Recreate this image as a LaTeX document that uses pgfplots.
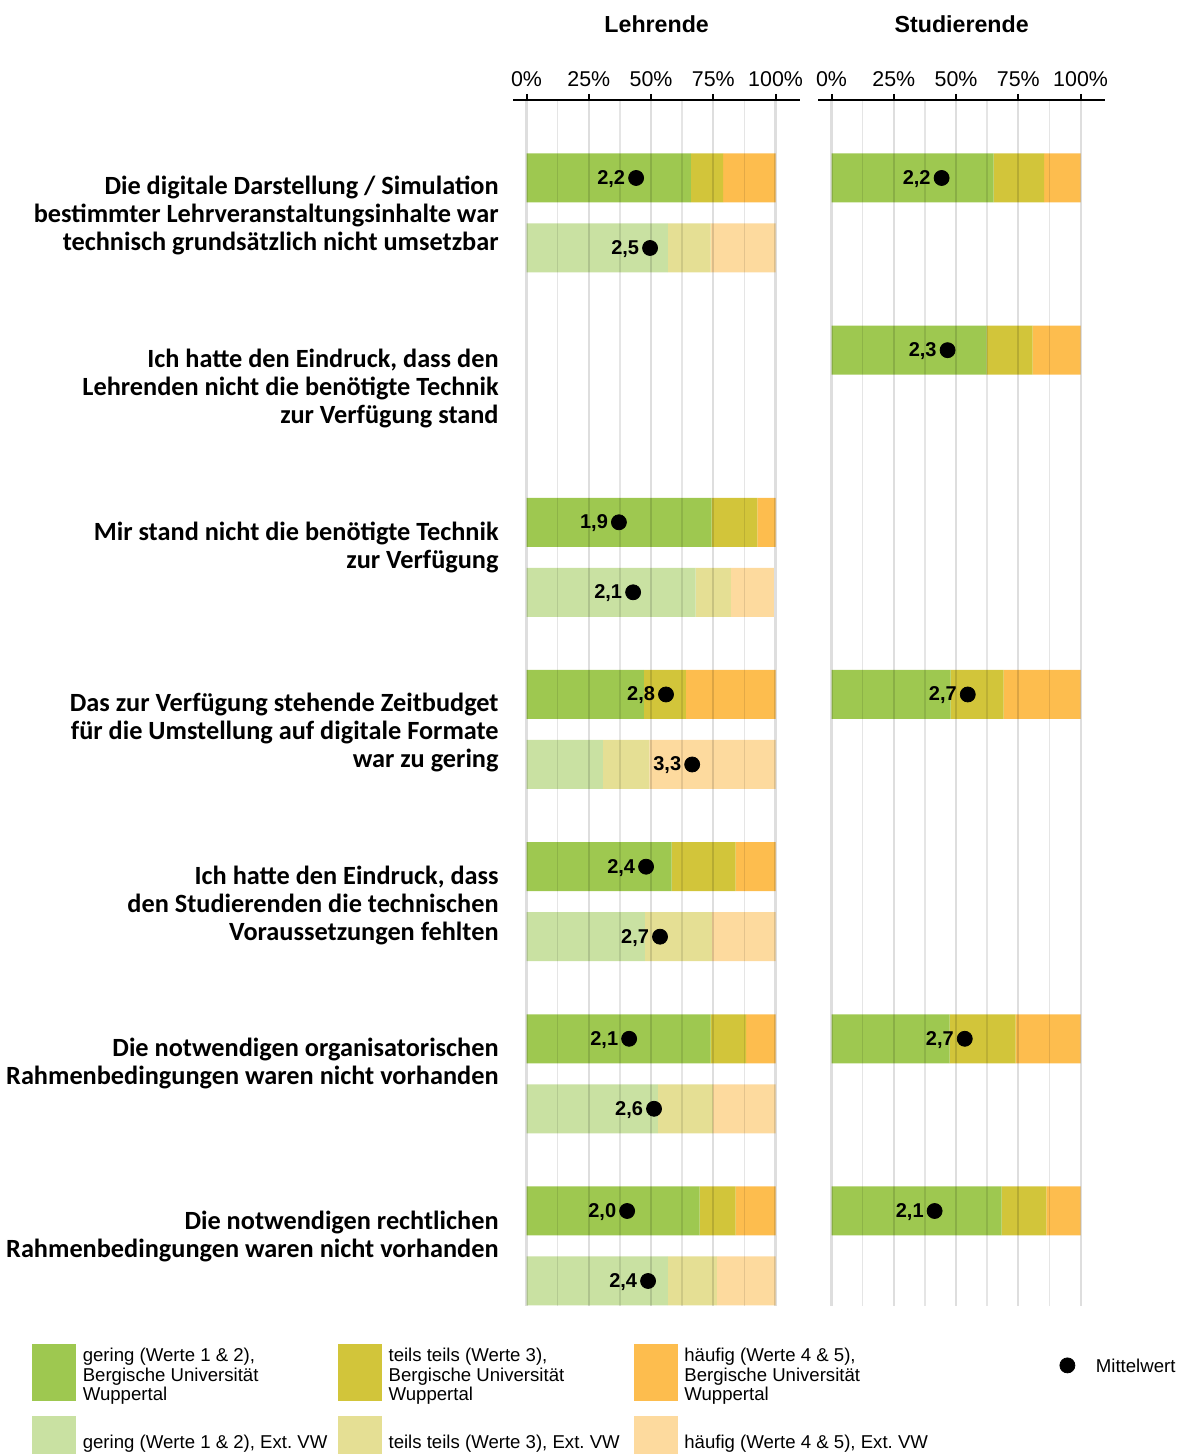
\documentclass[border=0pt]{standalone}
\usepackage{fontspec}
\setmainfont{Liberation Sans}
\newfontfamily\calib{Carlito}
\usepackage{pgfplots}
\usepackage{pgfplotstable}
\pgfplotsset{compat=1.18}
\frenchspacing

\definecolor{gB}{RGB}{158,200,80}
\definecolor{yB}{RGB}{210,197,58}
\definecolor{oB}{RGB}{253,189,78}
\definecolor{gE}{RGB}{201,225,162}
\definecolor{yE}{RGB}{229,223,148}
\definecolor{oE}{RGB}{253,218,158}

% Lehrende: BUW rows and Ext. VW rows (shares in %)
\pgfplotstableread{
y      gB   gE   yB   yE   oB   oE
1276   66.0 0    12.9 0    21.1 0
1206   0    56.8 0    17.1 0    26.1
931.7  74.3 0    18.4 0    7.3  0
861.7  0    67.9 0    14.1 0    17.3
759.5  47.1 0    16.9 0    36.0 0
689.5  0    30.7 0    18.6 0    50.7
587.3  58.3 0    25.7 0    16.0 0
517.3  0    47.5 0    26.9 0    25.6
415.2  73.9 0    14.3 0    11.8 0
345.2  0    52.7 0    22.1 0    25.2
243.0  69.5 0    14.5 0    16.0 0
173.0  0    56.8 0    19.6 0    23.6
}\Lbars
\pgfplotstableread{
y      x    lab
1276   44.0 2,2
1206   49.6 2,5
931.7  37.1 1,9
861.7  42.8 2,1
759.5  56.0 2,8
689.5  66.5 3,3
587.3  48.0 2,4
517.3  53.6 2,7
415.2  41.2 2,1
345.2  51.2 2,6
243.0  40.4 2,0
173.0  48.8 2,4
}\Lmean
% Studierende
\pgfplotstableread{
y      gB   yB   oB
1276   65.1 20.3 14.6
1103.8 62.3 18.4 19.3
759.5  47.8 21.3 30.9
415.2  47.4 26.5 26.1
243.0  68.3 18.0 13.7
}\Sbars
\pgfplotstableread{
y      x    lab
1276   44.2 2,2
1103.8 46.6 2,3
759.5  54.7 2,7
415.2  53.5 2,7
243.0  41.4 2,1
}\Smean

\pgfplotsset{
  geom/.style={scale only axis, width=143.35pt, height=603pt,
    xmin=-5.3, xmax=109.8, ymin=148, ymax=1354},
  panel/.style={geom,
    axis x line*=top, axis y line*=left,
    y axis line style={draw=none},
    x axis line style={line width=1pt, black},
    xtick={0,25,50,75,100}, xticklabels={0\%,25\%,50\%,75\%,100\%},
    minor xtick={12.5,37.5,62.5,87.5},
    xmajorgrids, xminorgrids, ymajorgrids=false,
    major grid style={black, opacity=0.13, line width=1.1pt},
    minor grid style={black, opacity=0.1, line width=0.75pt},
    tick align=outside,
    major tick length=3pt, minor tick length=0pt,
    xtick style={black, line width=1pt},
    ytick style={draw=none},
    xticklabel style={font=\fontsize{10.7}{12}\selectfont},
    axis on top,
    xbar stacked, bar width=24.5pt,
    title style={font=\bfseries\fontsize{11.6}{13}\selectfont, at={(0.5,1)}, anchor=center, yshift=32pt},
  },
  means/.style={geom, hide axis, clip=false,
    point meta=explicit symbolic,
    nodes near coords,
    nodes near coords style={anchor=east, xshift=-5.3pt, yshift=-0.5pt, inner sep=0pt,
      font=\bfseries\fontsize{10}{12}\selectfont, text=black}},
  boxleg/.style={legend image code/.code={\fill[#1] (0pt,-11pt) rectangle (21.5pt,17pt);}},
  dotleg/.style={legend image code/.code={\path[draw=none] (0pt,-11pt) rectangle (21.5pt,17pt);
      \draw[black, fill=black, mark=*, mark size=3.75pt, only marks] plot coordinates {(10.75pt,6.5pt)};}},
}
\newcommand\up[2]{\raisebox{#1}[\height][\depth]{#2}}

\begin{document}
\begin{tikzpicture}
\path[use as bounding box] (0,0) rectangle (589.5pt,727pt);

% ---------------- Lehrende ----------------
\begin{axis}[panel, at={(256.65pt,74pt)}, anchor=south west,
  title={Lehrende},
  ytick={1238,1065,907,721,548,390,217},
  yticklabels={
    {Die digitale Darstellung / Simulation\\bestimmter Lehrveranstaltungsinhalte war\\technisch grundsätzlich nicht umsetzbar},
    {Ich hatte den Eindruck, dass den\\Lehrenden nicht die benötigte Technik\\zur Verfügung stand},
    {Mir stand nicht die benötigte Technik\\zur Verfügung},
    {Das zur Verfügung stehende Zeitbudget\\für die Umstellung auf digitale Formate\\war zu gering},
    {Ich hatte den Eindruck, dass\\den Studierenden die technischen\\Voraussetzungen fehlten},
    {Die notwendigen organisatorischen\\Rahmenbedingungen waren nicht vorhanden},
    {Die notwendigen rechtlichen\\Rahmenbedingungen waren nicht vorhanden}},
  yticklabel style={font=\calib\bfseries\fontsize{13.15}{14}\selectfont, align=right, anchor=east, inner sep=0pt, xshift=-4.15pt},
]
\addplot[fill=gB, draw=none] table[x=gB, y=y] {\Lbars};
\addplot[fill=gE, draw=none] table[x=gE, y=y] {\Lbars};
\addplot[fill=yB, draw=none] table[x=yB, y=y] {\Lbars};
\addplot[fill=yE, draw=none] table[x=yE, y=y] {\Lbars};
\addplot[fill=oB, draw=none] table[x=oB, y=y] {\Lbars};
\addplot[fill=oE, draw=none] table[x=oE, y=y] {\Lbars};
\end{axis}
\begin{axis}[means, at={(256.65pt,74pt)}, anchor=south west]
\addplot[only marks, mark=*, mark size=3.75pt, black] table[x=x, y=y, meta=lab] {\Lmean};
\end{axis}

% ---------------- Studierende ----------------
\begin{axis}[panel, at={(409.15pt,74pt)}, anchor=south west,
  title={Studierende}, ytick=\empty]
\addplot[fill=gB, draw=none] table[x=gB, y=y] {\Sbars};
\addplot[fill=yB, draw=none] table[x=yB, y=y] {\Sbars};
\addplot[fill=oB, draw=none] table[x=oB, y=y] {\Sbars};
\end{axis}
\begin{axis}[means, at={(409.15pt,74pt)}, anchor=south west]
\addplot[only marks, mark=*, mark size=3.75pt, black] table[x=x, y=y, meta=lab] {\Smean};
\end{axis}

% ---------------- Legend ----------------
\begin{axis}[hide axis, scale only axis, width=1pt, height=1pt,
  xmin=0, xmax=1, ymin=0, ymax=1,
  at={(16pt,55pt)}, anchor=north west,
  legend columns=4, legend cell align=left,
  legend style={at={(0,1)}, anchor=north west, draw=none, fill=none,
    inner sep=0pt, outer sep=0pt, column sep=0pt, row sep=7.7pt,
    nodes={inner sep=0pt},
    font=\fontsize{9.3}{9.75}\selectfont},
]
\addlegendimage{boxleg=gB}
\addlegendentry{\hspace*{3.5pt}\makebox[127.5pt][l]{\up{6pt}{\begin{tabular}{@{}l@{}}gering (Werte 1 \& 2),\\Bergische Universität\\Wuppertal\end{tabular}}}}
\addlegendimage{boxleg=yB}
\addlegendentry{\hspace*{3.5pt}\makebox[122.5pt][l]{\up{6pt}{\begin{tabular}{@{}l@{}}teils teils (Werte 3),\\Bergische Universität\\Wuppertal\end{tabular}}}}
\addlegendimage{boxleg=oB}
\addlegendentry{\hspace*{3.5pt}\makebox[180.75pt][l]{\up{6pt}{\begin{tabular}{@{}l@{}}häufig (Werte 4 \& 5),\\Bergische Universität\\Wuppertal\end{tabular}}}}
\addlegendimage{dotleg}
\addlegendentry{\hspace*{3.5pt}\up{5.5pt}{Mittelwert}}
\addlegendimage{boxleg=gE}
\addlegendentry{\hspace*{3.5pt}\makebox[127.5pt][l]{\up{3.5pt}{gering (Werte 1 \& 2), Ext.\ VW}}}
\addlegendimage{boxleg=yE}
\addlegendentry{\hspace*{3.5pt}\makebox[122.5pt][l]{\up{3.5pt}{teils teils (Werte 3), Ext.\ VW}}}
\addlegendimage{boxleg=oE}
\addlegendentry{\hspace*{3.5pt}\makebox[180.75pt][l]{\up{3.5pt}{häufig (Werte 4 \& 5), Ext.\ VW}}}
\end{axis}
\end{tikzpicture}
\end{document}
